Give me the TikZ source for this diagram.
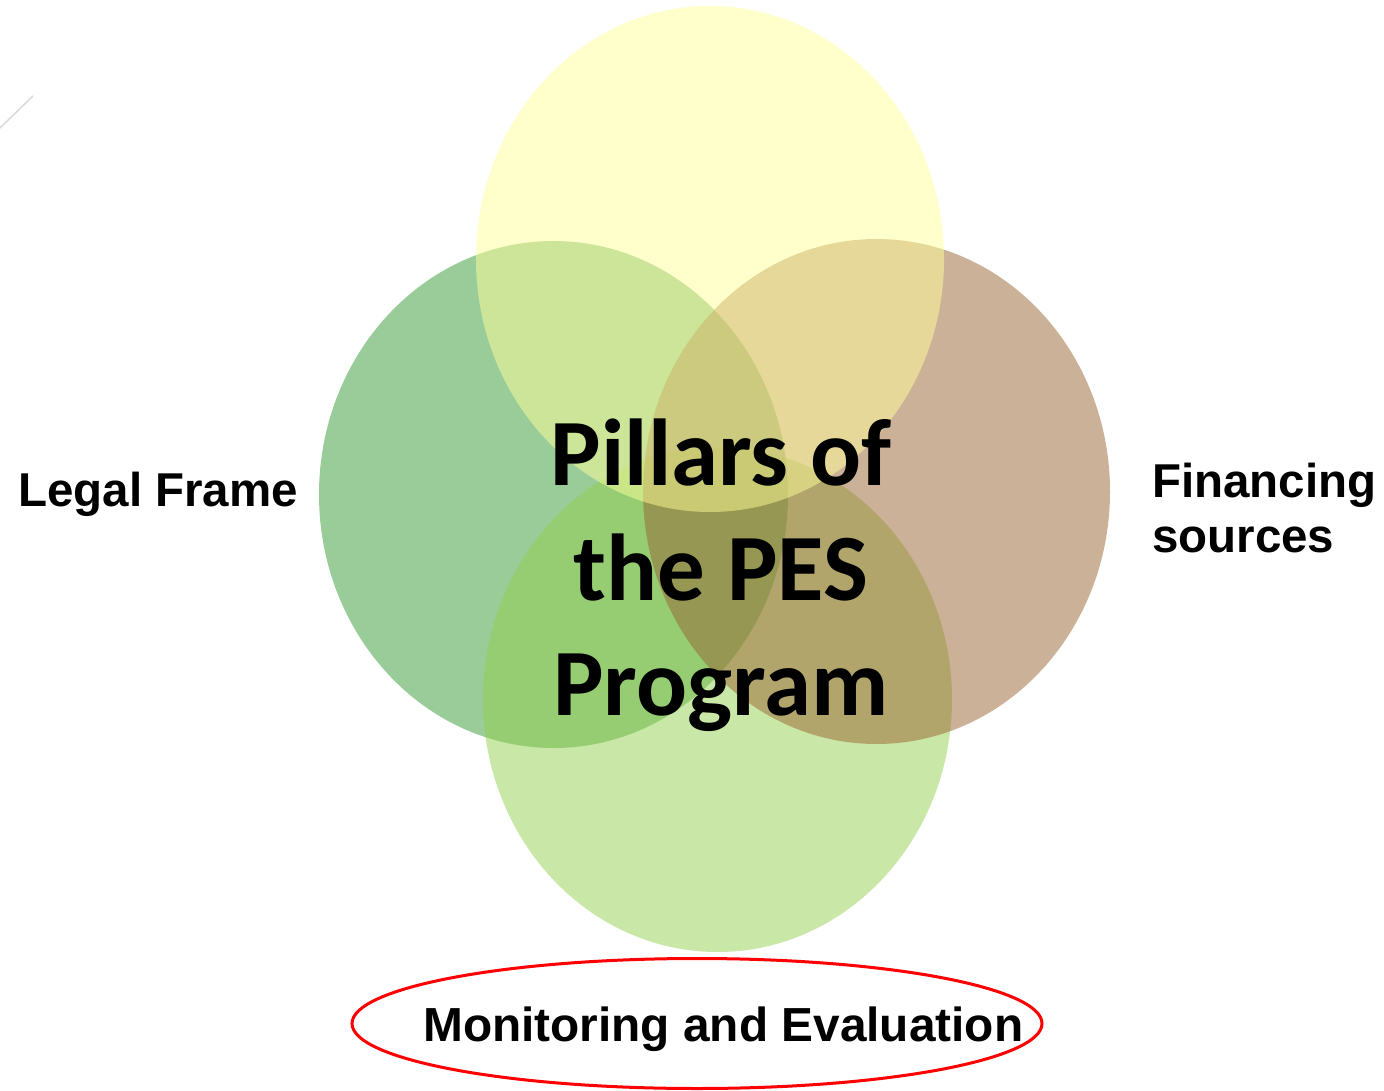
\documentclass[tikz,border=0pt]{standalone}
\usepackage{fontspec}
\setmainfont{Liberation Sans}
\newfontfamily\carlitofont{Carlito}
\usetikzlibrary{shapes.geometric}
\definecolor{ctop}{HTML}{FFFF99}
\definecolor{cleft}{HTML}{339933}
\definecolor{cright}{HTML}{996333}
\definecolor{cbottom}{HTML}{93CF4F}
\definecolor{cred}{HTML}{FF0000}
\tikzset{
  pillar/.style={ellipse, inner sep=0pt, draw=none, fill opacity=0.5},
  label/.style={inner sep=0pt, font=\fontsize{47.5}{55}\selectfont\bfseries, text=black},
}
\begin{document}
\begin{tikzpicture}[x=1pt,y=-1pt]
\useasboundingbox (0,0) rectangle (1384,1091);
\node[pillar, fill=cleft, minimum width=469pt, minimum height=507pt] (left) at (553.5,494.5) {};
\node[pillar, fill=cbottom, minimum width=469pt, minimum height=505pt] (bottom) at (717.5,699.5) {};
\node[pillar, fill=cright, minimum width=467pt, minimum height=505pt] (right) at (876.5,491.5) {};
\node[pillar, fill=ctop, minimum width=468pt, minimum height=506pt] (top) at (710,259) {};
\node[inner sep=0pt, align=center, anchor=base, font=\carlitofont\bfseries\fontsize{95}{115}\selectfont] (title) at (721,715) {Pillars of\\the PES\\Program};
\node[label, anchor=base west] (legal) at (18,506) {Legal Frame};
\node[label, anchor=base west, align=left] (fin) at (1152,552) {Financing\\sources};
\node[ellipse, draw=cred, line width=3pt, inner sep=0pt, minimum width=690pt, minimum height=130pt] (me) at (697,1023.5) {};
\node[label, anchor=base west, font=\fontsize{47.8}{55}\selectfont\bfseries] (metext) at (423,1041) {Monitoring and Evaluation};
\coordinate (s1) at (0,128);
\coordinate (s2) at (33,96);
\draw[color=gray!30, line width=1.5pt] (s1) -- (s2);
\end{tikzpicture}
\end{document}
